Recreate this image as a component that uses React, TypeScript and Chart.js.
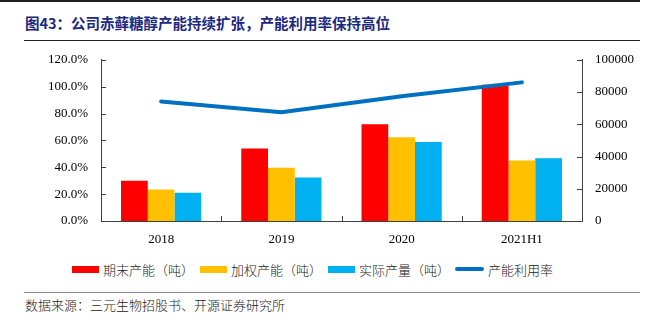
import React, { useEffect, useRef } from "react";
import { Chart, registerables } from "chart.js";

Chart.register(...registerables);

const categories = ["2018", "2019", "2020", "2021H1"];
const endCapacity = [25000, 45000, 60000, 84500];
const weightedCapacity = [19500, 33000, 52000, 37500];
const actualOutput = [17500, 27000, 49000, 39000];
const utilization = [89.0, 81.0, 92.8, 103.2];

const seriesNames = ["期末产能（吨）", "加权产能（吨）", "实际产量（吨）", "产能利用率"];
const colors = ["#FF0000", "#FFC000", "#00B0F0", "#0070C0"];

const titleText = "图43：公司赤藓糖醇产能持续扩张，产能利用率保持高位";
const sourceText = "数据来源：三元生物招股书、开源证券研究所";

const cjk = '"Noto Sans CJK SC", sans-serif';
const serif = '"Liberation Serif", "Times New Roman", serif';

const inwardTicks = {
  id: "inwardTicks",
  afterDatasetsDraw(chart: any) {
    const ctx = chart.ctx;
    const { left, right, bottom } = chart.chartArea;
    const y = chart.scales.y;
    const y1 = chart.scales.y1;
    const x = chart.scales.x;
    ctx.save();
    ctx.strokeStyle = "#404040";
    ctx.lineWidth = 1;
    ctx.beginPath();
    y.ticks.forEach((_t: any, i: number) => {
      const py = Math.round(y.getPixelForTick(i)) + 0.5;
      ctx.moveTo(left, py);
      ctx.lineTo(left + 5, py);
    });
    y1.ticks.forEach((_t: any, i: number) => {
      const py = Math.round(y1.getPixelForTick(i)) + 0.5;
      ctx.moveTo(right - 5, py);
      ctx.lineTo(right, py);
    });
    const n = categories.length;
    for (let i = 0; i < n - 1; i++) {
      const px = Math.round((x.getPixelForValue(i) + x.getPixelForValue(i + 1)) / 2) + 0.5;
      ctx.moveTo(px, bottom);
      ctx.lineTo(px, bottom - 5);
    }
    ctx.stroke();
    ctx.restore();
  },
};

export default function App() {
  const canvasRef = useRef<HTMLCanvasElement | null>(null);

  useEffect(() => {
    if (!canvasRef.current) return;
    const chart = new Chart(canvasRef.current, {
      type: "bar",
      data: {
        labels: categories,
        datasets: [
          {
            type: "line",
            label: seriesNames[3],
            data: utilization,
            yAxisID: "y",
            borderColor: colors[3],
            backgroundColor: colors[3],
            borderWidth: 4,
            pointRadius: 0,
            borderCapStyle: "round",
            tension: 0,
            order: 0,
          } as any,
          {
            label: seriesNames[0],
            data: endCapacity,
            yAxisID: "y1",
            backgroundColor: colors[0],
            order: 1,
          },
          {
            label: seriesNames[1],
            data: weightedCapacity,
            yAxisID: "y1",
            backgroundColor: colors[1],
            order: 1,
          },
          {
            label: seriesNames[2],
            data: actualOutput,
            yAxisID: "y1",
            backgroundColor: colors[2],
            order: 1,
          },
        ],
      },
      options: {
        animation: false,
        responsive: false,
        maintainAspectRatio: false,
        layout: { padding: { top: 8, bottom: 0, left: 0, right: 0 } },
        datasets: {
          bar: { categoryPercentage: 0.667, barPercentage: 1.0 },
        } as any,
        plugins: {
          legend: { display: false },
          tooltip: { enabled: false },
        },
        scales: {
          x: {
            grid: { display: false, drawTicks: false },
            border: { display: true, color: "#404040", width: 1 },
            ticks: { color: "#000", font: { family: serif, size: 13 }, padding: 11 },
            afterFit: (s: any) => {
              s.height = 34;
            },
          },
          y: {
            position: "left",
            min: 0,
            max: 120,
            grid: { display: false, drawTicks: false },
            border: { display: true, color: "#404040", width: 1 },
            ticks: {
              stepSize: 20,
              color: "#000",
              font: { family: serif, size: 13 },
              padding: 13,
              callback: (v: any) => Number(v).toFixed(1) + "%",
            },
            afterFit: (s: any) => {
              s.width = 101;
            },
          },
          y1: {
            position: "right",
            min: 0,
            max: 100000,
            grid: { display: false, drawTicks: false },
            border: { display: true, color: "#404040", width: 1 },
            ticks: {
              stepSize: 20000,
              color: "#000",
              font: { family: serif, size: 13 },
              padding: 13,
              callback: (v: any) => String(v),
            },
            afterFit: (s: any) => {
              s.width = 68;
            },
          },
        },
      },
      plugins: [inwardTicks],
    });
    return () => chart.destroy();
  }, []);

  const legendItem = (i: number, left: number) => (
    <div
      key={i}
      style={{ position: "absolute", left, top: 259, height: 20, display: "flex", alignItems: "center" }}
    >
      {i < 3 ? (
        <div style={{ width: 27, height: 7, background: colors[i] }} />
      ) : (
        <div style={{ width: 29, height: 4, background: colors[i], borderRadius: 2 }} />
      )}
      <span
        style={{
          marginLeft: 4,
          fontFamily: cjk,
          fontSize: 13,
          color: "#222",
          whiteSpace: "nowrap",
          fontWeight: 300,
        }}
      >
        {seriesNames[i]}
      </span>
    </div>
  );

  return (
    <div
      style={{
        position: "absolute",
        left: 0,
        top: 0,
        width: 650,
        height: 324,
        background: "#fff",
        overflow: "hidden",
      }}
    >
      <div style={{ position: "absolute", left: 0, top: 0, width: 640, height: 2, background: "#222" }} />
      <div
        style={{
          position: "absolute",
          left: 25,
          top: 13,
          fontFamily: cjk,
          fontSize: 14.5,
          fontWeight: 700,
          color: "#1B2A80",
          whiteSpace: "nowrap",
          lineHeight: "20px",
        }}
      >
        {titleText}
      </div>
      <div style={{ position: "absolute", left: 24, top: 40, width: 616, height: 1, background: "#222" }} />
      <canvas
        ref={canvasRef}
        width={650}
        height={216}
        style={{ position: "absolute", left: 0, top: 39, width: 650, height: 216 }}
      />
      {legendItem(0, 72)}
      {legendItem(1, 200)}
      {legendItem(2, 328)}
      {legendItem(3, 455)}
      <div style={{ position: "absolute", left: 24, top: 292, width: 616, height: 1, background: "#888" }} />
      <div
        style={{
          position: "absolute",
          left: 25,
          top: 296,
          fontFamily: cjk,
          fontSize: 13,
          color: "#222",
          whiteSpace: "nowrap",
          lineHeight: "18px",
          fontWeight: 300,
        }}
      >
        {sourceText}
      </div>
    </div>
  );
}
